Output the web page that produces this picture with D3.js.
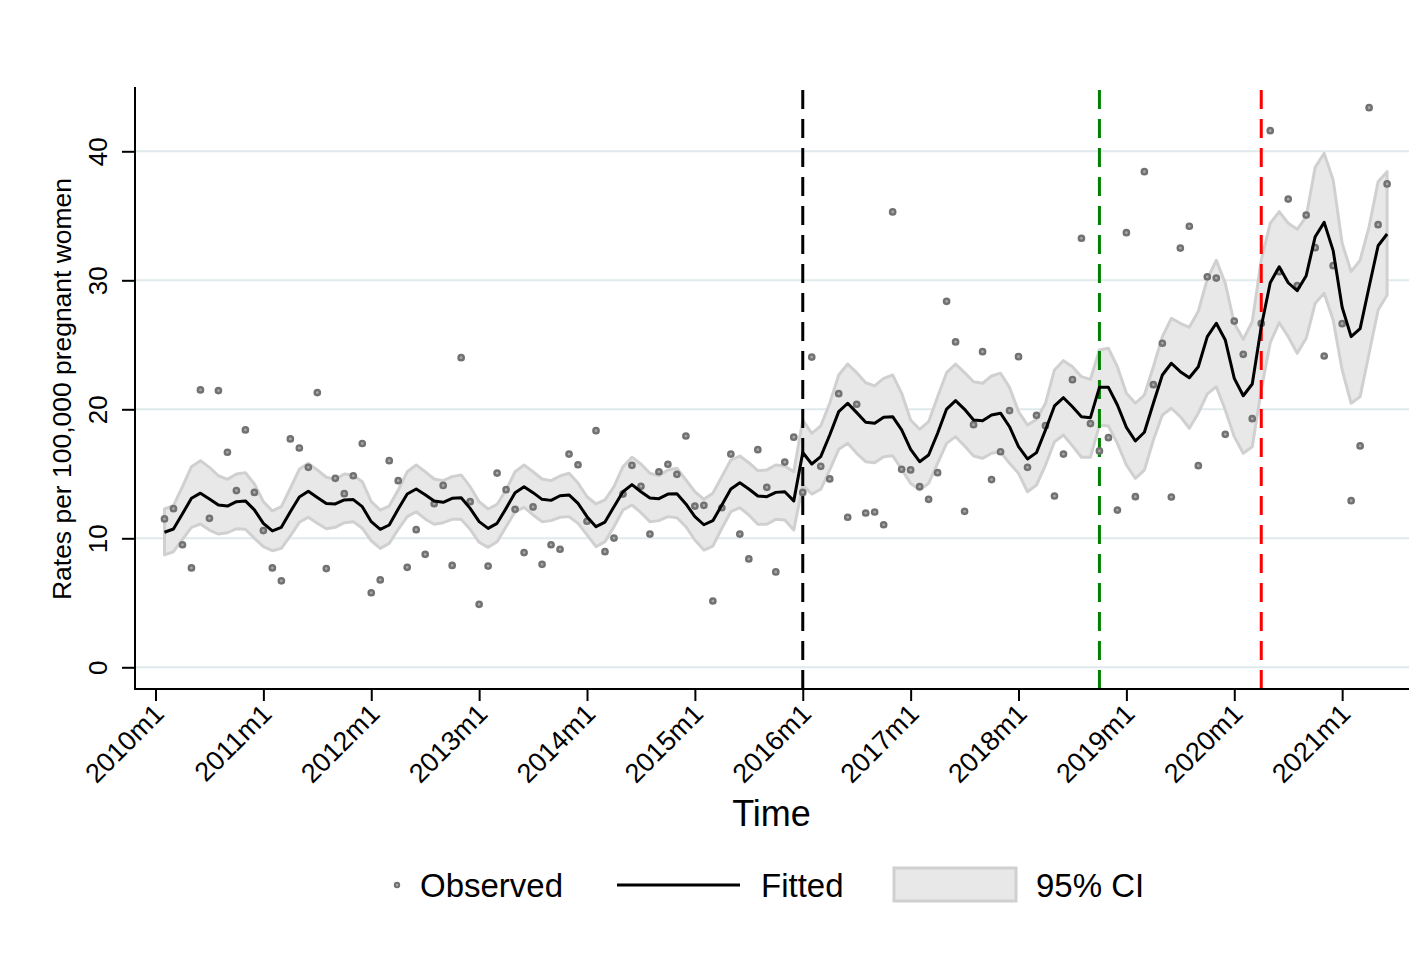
<!DOCTYPE html>
<html><head><meta charset="utf-8">
<script src="https://cdn.jsdelivr.net/npm/d3@7"></script>
<style>body{margin:0;background:#fff}svg{display:block}text{font-family:"Liberation Sans",Arial,Helvetica,sans-serif}</style>
</head><body><svg id="c" width="1421" height="953"></svg>
<script>
const firstPeriod = "2010m2";
const observed = [11.5,12.3,9.5,7.7,21.5,11.55,21.45,16.67,13.7,18.4,13.56,10.6,7.7,6.7,17.7,17.0,15.5,21.3,7.65,14.65,13.46,14.85,17.35,5.78,6.77,16.02,14.47,7.75,10.67,8.76,12.68,14.1,7.9,24.0,12.84,4.88,7.85,15.06,13.77,12.25,8.89,12.43,7.98,9.5,9.15,16.53,15.7,11.32,18.34,8.96,10.02,13.43,15.66,14.03,10.33,15.16,15.74,14.96,17.93,12.5,12.56,5.14,12.37,16.53,10.33,8.4,16.87,13.95,7.39,15.91,17.84,13.56,24.05,15.58,14.6,21.21,11.63,20.39,11.96,12.04,11.05,35.3,15.35,15.3,14.0,13.02,15.09,28.37,25.22,12.09,18.81,24.47,14.55,16.71,19.9,24.08,15.5,19.53,18.73,13.28,16.53,22.3,33.26,18.89,16.77,17.8,12.19,33.69,13.23,38.42,21.91,25.12,13.2,32.5,34.19,15.63,30.27,30.17,18.06,26.84,24.26,19.27,26.66,41.6,30.67,36.3,29.58,35.06,32.53,24.13,31.13,26.64,12.92,17.16,43.38,34.31,37.47];
const fitted = [10.47,10.72,11.9,13.1,13.5,13.05,12.58,12.5,12.84,12.9,12.2,11.16,10.57,10.85,12.06,13.2,13.64,13.17,12.7,12.66,12.97,13.0,12.45,11.29,10.7,11.03,12.27,13.43,13.82,13.38,12.89,12.79,13.1,13.15,12.32,11.29,10.77,11.16,12.32,13.54,14.0,13.54,13.02,12.94,13.3,13.36,12.71,11.68,10.9,11.26,12.45,13.61,14.16,13.61,13.12,13.07,13.43,13.46,12.66,11.68,11.05,11.37,12.58,13.82,14.31,13.82,13.28,13.23,13.56,13.61,12.9,16.65,15.76,16.33,18.01,19.82,20.47,19.74,18.99,18.91,19.38,19.43,18.4,16.9,15.94,16.46,18.14,20.02,20.67,20.0,19.17,19.12,19.56,19.7,18.65,17.1,16.15,16.64,18.4,20.26,20.9,20.2,19.43,19.35,21.7,21.7,20.33,18.6,17.54,18.22,20.47,22.66,23.57,22.92,22.45,23.3,25.63,26.67,25.37,22.4,21.05,21.96,26.4,29.81,31.05,29.81,29.19,30.36,33.38,34.49,32.3,27.91,25.63,26.25,29.5,32.68,33.59];
const ciUpper = [12.27,12.53,14.0,15.55,16.02,15.5,14.85,14.57,14.98,15.09,14.21,12.84,12.12,12.45,13.88,15.35,15.81,15.3,14.73,14.57,14.98,14.9,14.39,12.84,12.19,12.5,13.74,15.16,15.68,15.16,14.6,14.47,14.78,14.91,14.0,12.84,12.27,12.64,13.74,15.16,15.68,15.16,14.6,14.47,14.83,15.04,14.28,13.22,12.66,12.97,14.0,15.55,16.28,15.76,15.04,14.85,15.3,15.43,14.52,13.61,13.02,13.49,14.78,16.07,16.38,15.86,15.24,15.3,15.68,15.6,15.16,19.17,18.14,18.71,20.47,22.66,23.51,22.84,22.06,21.81,22.4,22.66,21.24,19.17,18.45,19.04,20.98,22.84,23.51,22.84,22.14,22.02,22.58,22.8,21.7,19.82,18.78,19.22,20.47,23.05,23.77,23.3,22.53,22.32,24.6,24.73,23.3,21.24,20.47,21.11,23.3,25.63,27.05,26.67,26.36,27.6,30.1,31.55,29.77,26.67,25.43,26.79,31.57,34.42,35.32,34.42,33.95,34.93,38.76,39.84,37.78,32.87,30.67,31.57,34.16,37.64,38.42];
const ciLower = [8.71,8.96,9.92,10.85,11.11,10.64,10.33,10.43,10.74,10.7,10.0,9.35,9.04,9.22,10.18,11.24,11.63,11.16,10.74,10.85,11.21,11.29,10.78,9.81,9.22,9.61,10.7,11.68,12.06,11.5,11.09,11.21,11.47,11.47,10.7,9.69,9.3,9.74,10.9,12.06,12.4,11.81,11.29,11.37,11.63,11.68,11.16,10.26,9.35,9.74,10.9,12.19,12.58,11.99,11.29,11.37,11.68,11.6,10.9,9.87,9.09,9.4,10.78,12.06,12.37,11.81,11.09,11.09,11.47,11.42,10.64,14.13,13.43,13.8,15.3,16.9,17.36,16.59,15.94,15.86,16.33,16.4,15.35,14.26,13.74,14.26,15.81,17.36,17.88,17.16,16.38,16.2,16.59,16.71,15.81,15.04,13.61,14.13,15.68,17.49,18.01,17.16,16.28,16.28,18.78,18.71,17.36,15.68,14.65,15.29,17.62,19.56,20.08,19.43,18.53,19.7,21.2,21.75,19.95,17.88,16.59,17.1,21.5,25.16,26.71,25.63,24.34,25.5,28.22,28.99,26.92,23.05,20.47,20.98,24.34,27.7,28.86];
const xTickLabels = ["2010m1","2011m1","2012m1","2013m1","2014m1","2015m1","2016m1","2017m1","2018m1","2019m1","2020m1","2021m1"];
const yTicks = [0,10,20,30,40];
const interventions = ["2016m1","2018m10","2020m4"];
const interventionColors = ["#000000","#008000","#ff0000"];
const legendLabels = ["Observed","Fitted","95% CI"];

function periodIndex(p){ const parts = p.split("m").map(Number); return (parts[0]-2010)*12 + (parts[1]-1); }
const start = periodIndex(firstPeriod);
const rows = observed.map((v,i)=>({t:start+i, obs:v, fit:fitted[i], lo:ciLower[i], hi:ciUpper[i]}));

const svg = d3.select("#c");
const x = d3.scaleLinear().domain([0,137]).range([155.5,1387.1]);
const y = d3.scaleLinear().domain([0,40]).range([667.3,151.3]);
const pL = 135, pR = 1409, pT = 87, pB = 689;

svg.append("g").selectAll("line").data(yTicks).join("line")
  .attr("x1",pL).attr("x2",pR).attr("y1",d=>y(d)).attr("y2",d=>y(d))
  .attr("stroke","#e0eaec").attr("stroke-width",2);

svg.append("path").datum(rows)
  .attr("d", d3.area().x(d=>x(d.t)).y0(d=>y(d.lo)).y1(d=>y(d.hi)))
  .attr("fill","#e8e8e8").attr("stroke","#d0d0d0").attr("stroke-width",3).attr("stroke-linejoin","round");

svg.append("g").selectAll("line").data(interventions).join("line")
  .attr("x1",d=>x(periodIndex(d))).attr("x2",d=>x(periodIndex(d)))
  .attr("y1",pB).attr("y2",pT)
  .attr("stroke",(d,i)=>interventionColors[i]).attr("stroke-width",3)
  .attr("stroke-dasharray","19,10");

svg.append("g").selectAll("circle").data(rows).join("circle")
  .attr("cx",d=>x(d.t)).attr("cy",d=>y(d.obs)).attr("r",2.6)
  .attr("fill","#ababab").attr("stroke","#727272").attr("stroke-width",2.5);

svg.append("path").datum(rows)
  .attr("d", d3.line().x(d=>x(d.t)).y(d=>y(d.fit)))
  .attr("fill","none").attr("stroke","#000").attr("stroke-width",3).attr("stroke-linejoin","round");

const xAxis = d3.axisBottom(x).tickValues(xTickLabels.map(periodIndex))
  .tickFormat((d,i)=>xTickLabels[i]).tickSize(12).tickSizeOuter(0);
const gx = svg.append("g").attr("transform",`translate(0,${pB})`).call(xAxis);
gx.select(".domain").remove();
gx.selectAll(".tick line").attr("stroke","#000").attr("stroke-width",2);
gx.selectAll(".tick text").attr("font-size",27).attr("fill","#000")
  .attr("text-anchor","end").attr("dy",0).attr("y",0)
  .attr("transform","translate(9.5,26.5) rotate(-45)");

const yAxis = d3.axisLeft(y).tickValues(yTicks).tickSize(13).tickSizeOuter(0);
const gy = svg.append("g").attr("transform",`translate(${pL},0)`).call(yAxis);
gy.select(".domain").remove();
gy.selectAll(".tick line").attr("stroke","#000").attr("stroke-width",2);
gy.selectAll(".tick text").attr("font-size",26).attr("fill","#000")
  .attr("text-anchor","middle").attr("x",0).attr("dy",0).attr("y",-28)
  .attr("transform","rotate(-90)");

svg.append("line").attr("x1",pL).attr("x2",pL).attr("y1",pT).attr("y2",pB+1)
  .attr("stroke","#000").attr("stroke-width",2);
svg.append("line").attr("x1",pL).attr("x2",pR).attr("y1",pB).attr("y2",pB)
  .attr("stroke","#000").attr("stroke-width",2);

svg.append("text").attr("x",771.5).attr("y",826).attr("text-anchor","middle")
  .attr("font-size",36).text("Time");
svg.append("text").attr("transform","translate(71,389) rotate(-90)").attr("text-anchor","middle")
  .attr("font-size",25).attr("textLength",422).attr("lengthAdjust","spacingAndGlyphs")
  .text("Rates per 100,000 pregnant women");

const lg = svg.append("g");
const ly = 885;
lg.append("circle").attr("cx",397).attr("cy",ly).attr("r",2.2)
  .attr("fill","#ababab").attr("stroke","#727272").attr("stroke-width",2);
lg.append("text").attr("x",420).attr("y",ly+12).attr("font-size",33).text(legendLabels[0]);
lg.append("line").attr("x1",617).attr("x2",740).attr("y1",ly).attr("y2",ly)
  .attr("stroke","#000").attr("stroke-width",3);
lg.append("text").attr("x",761).attr("y",ly+12).attr("font-size",33).text(legendLabels[1]);
lg.append("rect").attr("x",894).attr("y",868).attr("width",122).attr("height",33)
  .attr("fill","#e8e8e8").attr("stroke","#d0d0d0").attr("stroke-width",3);
lg.append("text").attr("x",1036).attr("y",ly+12).attr("font-size",33).text(legendLabels[2]);
</script></body></html>
